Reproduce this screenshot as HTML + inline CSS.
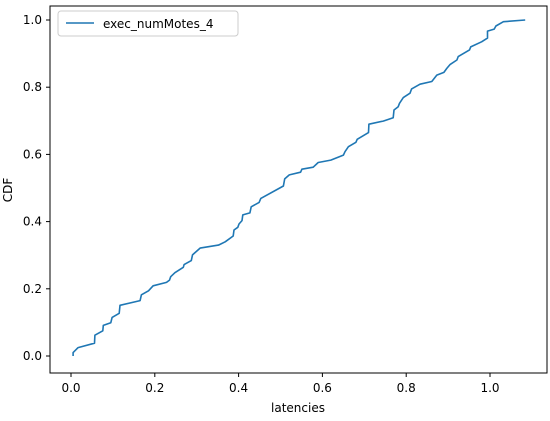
<!DOCTYPE html>
<html><head><meta charset="utf-8"><style>
body{margin:0;background:#fff}
svg text{font-family:"DejaVu Sans","Liberation Sans",sans-serif;font-size:12px;fill:#000}
</style></head><body>
<svg id="chart" width="550" height="416" xmlns="http://www.w3.org/2000/svg">
<rect x="0" y="0" width="550" height="416" fill="#fff"/>
<path id="line" fill="none" stroke="#1f77b4" stroke-width="1.6" stroke-linejoin="round"/>
<rect x="50" y="6" width="497" height="367" fill="none" stroke="#000" stroke-width="1"/>
<g id="xticks"></g>
<g id="yticks"></g>
<text x="298" y="412" text-anchor="middle">latencies</text>
<text transform="translate(12,190) rotate(-90)" text-anchor="middle">CDF</text>
<g>
<rect x="58" y="11" width="180" height="25" rx="3" fill="#fff" stroke="#ccc"/>
<line x1="66" y1="23" x2="94" y2="23" stroke="#1f77b4" stroke-width="1.6"/>
<text x="103" y="28">exec_numMotes_4</text>
</g>
</svg>
<script>
const xVals=[.005,.005,.017,.056,.057,.076,.077,.095,.098,.115,.117,.165,.168,.185,.196,.228,.235,.238,.248,.268,.270,.287,.290,.308,.352,.368,.387,.389,.398,.401,.408,.410,.427,.430,.449,.453,.507,.510,.521,.548,.551,.578,.590,.620,.650,.654,.662,.680,.683,.710,.711,.745,.769,.771,.781,.784,.793,.809,.813,.833,.861,.873,.890,.897,.905,.921,.924,.951,.954,.980,.994,.994,1.010,1.014,1.032,1.084];
const yVals=[0,.010,.025,.038,.062,.075,.091,.099,.115,.127,.151,.165,.182,.194,.209,.219,.226,.236,.248,.264,.272,.284,.301,.321,.330,.340,.357,.375,.383,.393,.403,.420,.426,.444,.457,.469,.506,.527,.539,.547,.556,.562,.576,.583,.598,.608,.623,.636,.645,.665,.690,.699,.709,.732,.742,.752,.769,.782,.795,.809,.817,.836,.844,.856,.868,.881,.891,.911,.920,.935,.946,.967,.973,.982,.995,1.0];
const xTicks=[0.0,0.2,0.4,0.6,0.8,1.0];
const yTicks=[0.0,0.2,0.4,0.6,0.8,1.0];
const xTickLabels=["0.0","0.2","0.4","0.6","0.8","1.0"];
const yTickLabels=["0.0","0.2","0.4","0.6","0.8","1.0"];
const X=v=>71+v*419, Y=v=>356-v*336;
const NS="http://www.w3.org/2000/svg";
let d="";
xVals.forEach((v,i)=>{d+=(i?"L":"M")+X(v).toFixed(1)+","+Y(yVals[i]).toFixed(1);});
document.getElementById("line").setAttribute("d",d);
const xg=document.getElementById("xticks"), yg=document.getElementById("yticks");
xTicks.forEach((t,i)=>{
  const l=document.createElementNS(NS,"line");
  l.setAttribute("x1",X(t));l.setAttribute("x2",X(t));l.setAttribute("y1",373);l.setAttribute("y2",377);l.setAttribute("stroke","#000");
  
  
  xg.appendChild(l);
  const tx=document.createElementNS(NS,"text");
  tx.setAttribute("x",X(t));tx.setAttribute("y",392);tx.setAttribute("text-anchor","middle");tx.textContent=xTickLabels[i];
  
  
  xg.appendChild(tx);
});
yTicks.forEach((t,i)=>{
  const l=document.createElementNS(NS,"line");
  l.setAttribute("x1",46);l.setAttribute("x2",50);l.setAttribute("y1",Y(t));l.setAttribute("y2",Y(t));l.setAttribute("stroke","#000");
  
  
  yg.appendChild(l);
  const tx=document.createElementNS(NS,"text");
  tx.setAttribute("x",42);tx.setAttribute("y",Y(t)+4);tx.setAttribute("text-anchor","end");tx.textContent=yTickLabels[i];
  
  
  yg.appendChild(tx);
});
</script>
</body></html>
